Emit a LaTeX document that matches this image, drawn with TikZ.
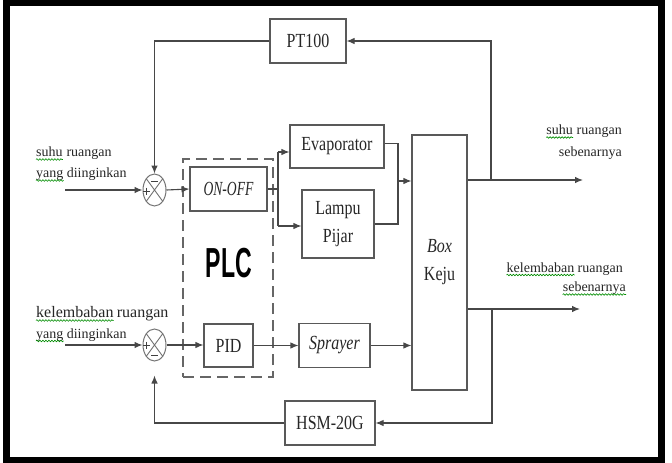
\documentclass[tikz,border=0pt]{standalone}
\usepackage{fontspec}
\setmainfont{Liberation Serif}
\newfontfamily\plcf{Liberation Sans}
\usepackage{graphicx}
\usetikzlibrary{arrows.meta,shapes.geometric,decorations.pathmorphing,calc}
\newcommand\bxs[1]{\scalebox{0.8}[1]{#1}}
\begin{document}
\begin{tikzpicture}[x=1pt,y=-1pt,
  ln/.style={draw=black!72,line width=1.1pt},
  arr/.style={ln,-{Latex[length=8pt,width=6.5pt]}},
  blk/.style={draw=black!65,line width=1.1pt,inner sep=0,font=\fontsize{20}{28}\selectfont,text=black!85,align=center},
  sumj/.style={ellipse,draw=black!55,line width=1pt,minimum width=23pt,minimum height=32pt,inner sep=0},
  lbl/.style={inner sep=0,font=\fontsize{14}{16}\selectfont,text=black!85},
  sq/.style={draw=green!55!black,line width=0.6pt,decorate,decoration={snake,amplitude=0.8pt,segment length=3pt}}
]
\useasboundingbox (0,0) rectangle (672,463);
\draw[line width=6.5pt] (6.5,3) rectangle (661.5,460.5);

% blocks
\node[blk,minimum width=76pt,minimum height=44pt] (pt) at (308,41) {\bxs{PT100}};
\node[draw=black!60,dash pattern=on 11pt off 6pt,line width=1.3pt,minimum width=90pt,minimum height=218pt,inner sep=0] (plcbox) at (228,268) {};
\node[blk,minimum width=77pt,minimum height=44pt] (onoff) at (228.5,189) {\scalebox{0.68}[1]{\textit{ON-OFF}}};
\node[inner sep=0,font=\plcf\bfseries\fontsize{42}{42}\selectfont] (plc) at (229,263) {\scalebox{0.55}[1]{PLC}};
\node[blk,minimum width=49pt,minimum height=43pt] (pid) at (228.5,345.5) {\bxs{PID}};
\node[blk,minimum width=94pt,minimum height=43pt] (evap) at (337,146.5) {\bxs{Evaporator}};
\node[blk,minimum width=72pt,minimum height=68pt] (lampu) at (338,224) {\bxs{Lampu}\\\bxs{Pijar}};
\node[blk,minimum width=71pt,minimum height=44pt] (spray) at (334.5,345.5) {\bxs{\textit{Sprayer}}};
\node[blk,minimum width=55pt,minimum height=255pt] (keju) at (439.5,262.5) {\bxs{\textit{Box}}\\\bxs{Keju}};
\node[blk,minimum width=90pt,minimum height=44pt] (hsm) at (330,423) {\bxs{HSM-20G}};

% summing junctions
\node[sumj] (s1) at (154.5,190) {};
\node[sumj] (s2) at (154.5,345) {};
\foreach \s in {s1,s2}{
  \draw[black!55,line width=0.9pt] (\s.north west) -- (\s.south east) (\s.north east) -- (\s.south west);
}
\draw[black!75,line width=0.9pt] (151,181) -- (158,181) (142.5,191) -- (149.5,191) (146,187.5) -- (146,194.5);
\draw[black!75,line width=0.9pt] (142.5,345) -- (149.5,345) (146,341.5) -- (146,348.5) (151,355.5) -- (158,355.5);

% inputs
\coordinate (in1) at (65,190);
\coordinate (in2) at (65,345);
\draw[arr] (in1) -- (s1.west);
\draw[arr] (in2) -- (s2.west);
\draw[arr] (s1.east) -- (onoff.west);
\draw[arr] (s2.east) -- (s2.east -| pid.west);

% ON-OFF branch
\coordinate (br) at (278,189);
\coordinate (bt) at (278,152);
\coordinate (bb) at (278,226);
\draw[ln] (onoff.east) -- (br);
\draw[ln] (bt) -- (bb);
\draw[arr] (bt) -- (bt -| evap.west);
\draw[arr] (bb) -- (bb -| lampu.west);

% into box keju
\coordinate (jx) at (398,181);
\draw[ln] ([yshift=3pt]evap.east) -| (jx);
\draw[ln] (lampu.east) -| (jx);
\draw[arr] (jx) -- (jx -| keju.west);
\draw[arr] (pid.east) -- (spray.west);
\draw[arr] (spray.east) -- (spray.east -| keju.west);

% outputs
\coordinate (o1end) at (583,180);
\coordinate (o2end) at (580,309);
\coordinate (f1) at (491,180);
\coordinate (f2) at (492,309);
\draw[arr] (o1end -| keju.east) -- (o1end);
\draw[arr] (o2end -| keju.east) -- (o2end);
\draw[arr] (f1) |- (pt.east);
\draw[arr] (pt.west) -| (s1.north);
\draw[arr] (f2) |- (hsm.east);
\draw[arr,shorten >=14pt] (hsm.west) -| (s2.south);

% left labels
\node[lbl,anchor=base west] (ls1) at (36,156.5) {suhu};
\node[lbl,anchor=base west] (lr1) at ([xshift=3.5pt]ls1.base east) {ruangan};
\node[lbl,anchor=base west] (ly1) at (36,177.5) {yang};
\node[lbl,anchor=base west] (ld1) at ([xshift=3pt]ly1.base east) {diinginkan};
\node[lbl,anchor=base west,font=\fontsize{16}{18}\selectfont] (lk2) at (36,317.5) {kelembaban};
\node[lbl,anchor=base west,font=\fontsize{16}{18}\selectfont] (lr2) at ([xshift=3pt]lk2.base east) {ruangan};
\node[lbl,anchor=base west] (ly2) at (36,338) {yang};
\node[lbl,anchor=base west] (ld2) at ([xshift=3pt]ly2.base east) {diinginkan};

% right labels
\node[lbl,anchor=base east] (rr1) at (622,134.5) {ruangan};
\node[lbl,anchor=base east] (rs1) at ([xshift=-3.5pt]rr1.base west) {suhu};
\node[lbl,anchor=base east] (rb1) at (622,156) {sebenarnya};
\node[lbl,anchor=base east] (rr2) at (623,272) {ruangan};
\node[lbl,anchor=base east] (rk2) at ([xshift=-3pt]rr2.base west) {kelembaban};
\node[lbl,anchor=base east] (rb2) at (626,291.5) {sebenarnya};

% spell-check squiggles
\foreach \w in {ls1,ly1,lk2,ly2,rs1,rk2,rb2}{
  \draw[sq] ($(\w.base west)+(0,3)$) -- ($(\w.base east)+(0,3)$);
}
\end{tikzpicture}
\end{document}
